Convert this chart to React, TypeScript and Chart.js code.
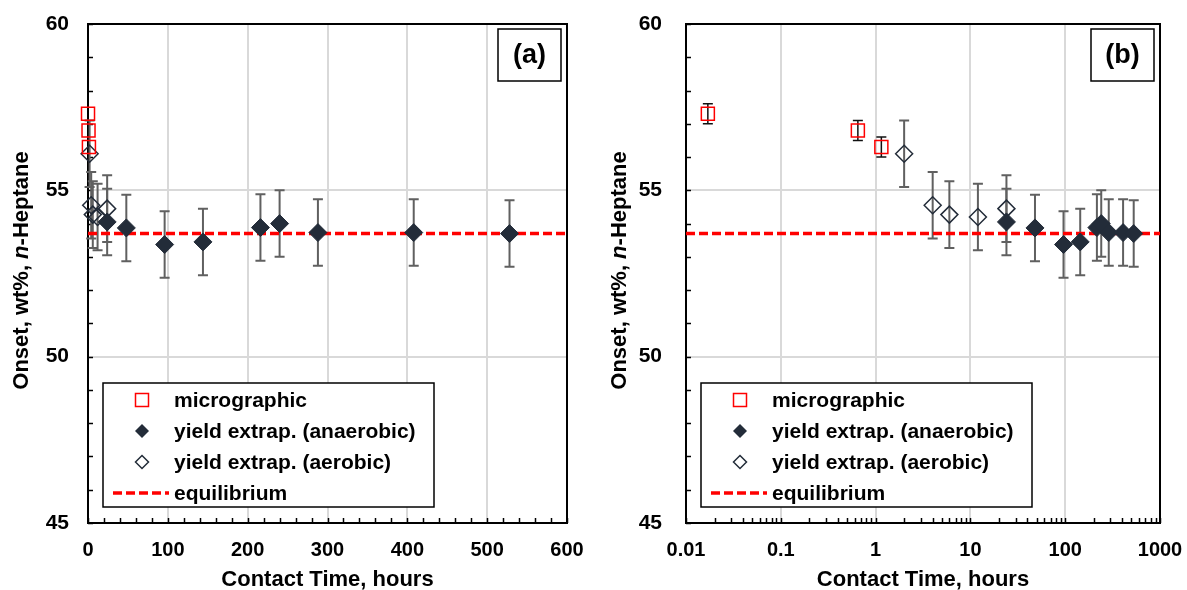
import { useEffect, useRef } from "react";
import { Chart, registerables } from "chart.js";
Chart.register(...registerables);

// ---------- data ----------
const microX = [0.017, 0.65, 1.15];
const microY = [57.3, 56.8, 56.3];
const microErr = [0.3, 0.3, 0.3];

const anaX = [24, 48, 96, 144, 216, 240, 288, 408, 528];
const anaY = [54.05, 53.87, 53.37, 53.45, 53.88, 54.0, 53.73, 53.73, 53.7];
const anaErr = [1, 1, 1, 1, 1, 1, 1, 1, 1];

const aeroX = [2, 4, 6, 12, 24];
const aeroY = [56.1, 54.55, 54.27, 54.2, 54.45];
const aeroErr = [1, 1, 1, 1, 1];

const equilibriumY = 53.7;
const linearXRange = [0, 600];
const logXRange = [0.01, 1000];
const logXTicks = [0.01, 0.1, 1, 10, 100, 1000];
const yRange = [45, 60];

const legendLabels = [
  "micrographic",
  "yield extrap. (anaerobic)",
  "yield extrap. (aerobic)",
  "equilibrium",
];
const panelLabels = ["(a)", "(b)"];
const xTitle = "Contact Time, hours";
const yTitleParts: [string, boolean][] = [
  ["Onset, wt%, ", false],
  ["n", true],
  ["-Heptane", false],
];

// ---------- styles ----------
const FONT = '"Liberation Sans", Arial, Helvetica, sans-serif';
const RED = "#ff0000";
const DARK = "#232c39";
const BAR = "#606060";
const GRID = "#d9d9d9";

function diamond(ctx: CanvasRenderingContext2D, x: number, y: number, r: number) {
  ctx.beginPath();
  ctx.moveTo(x, y - r);
  ctx.lineTo(x + r, y);
  ctx.lineTo(x, y + r);
  ctx.lineTo(x - r, y);
  ctx.closePath();
}

function makeConfig(isLog: boolean, panel: string, axisWidth: number, rightPad: number): any {
  const eqX = isLog ? logXRange : linearXRange;
  const errorSets = [
    { xs: aeroX, ys: aeroY, es: aeroErr, color: BAR, w: 2 },
    { xs: anaX, ys: anaY, es: anaErr, color: BAR, w: 2 },
  ];
  if (isLog) errorSets.push({ xs: microX, ys: microY, es: microErr, color: "#111111", w: 1.5 });

  const customPlugin = {
    id: "custom",
    beforeDatasetsDraw(chart: any) {
      const { ctx, chartArea: a, scales } = chart;
      const xs = scales.x;
      const ys = scales.y;
      ctx.save();
      // minor/major tick marks (inward)
      ctx.strokeStyle = "#000";
      ctx.lineWidth = 1.5;
      const tl = 5;
      for (let v = yRange[0]; v <= yRange[1]; v += 1) {
        const py = Math.round(ys.getPixelForValue(v)) + 0.5;
        ctx.beginPath();
        ctx.moveTo(a.left, py);
        ctx.lineTo(a.left + tl, py);
        ctx.stroke();
      }
      const xMinor: number[] = [];
      if (isLog) {
        for (let d = 0.01; d < 999; d *= 10) {
          for (let k = 1; k <= 9; k++) xMinor.push(k * d);
        }
        xMinor.push(1000);
      } else {
        for (let v = linearXRange[0]; v <= linearXRange[1]; v += 20) xMinor.push(v);
      }
      xMinor.forEach((v) => {
        const px = Math.round(xs.getPixelForValue(v)) + 0.5;
        ctx.beginPath();
        ctx.moveTo(px, a.bottom);
        ctx.lineTo(px, a.bottom - tl);
        ctx.stroke();
      });
      // frame
      ctx.lineWidth = 2;
      ctx.strokeRect(a.left, a.top, a.right - a.left, a.bottom - a.top);
      // error bars
      errorSets.forEach((s) => {
        ctx.strokeStyle = s.color;
        ctx.lineWidth = s.w;
        s.xs.forEach((xv, i) => {
          const px = xs.getPixelForValue(xv);
          const p1 = ys.getPixelForValue(s.ys[i] + s.es[i]);
          const p2 = ys.getPixelForValue(s.ys[i] - s.es[i]);
          ctx.beginPath();
          ctx.moveTo(px, p1);
          ctx.lineTo(px, p2);
          ctx.moveTo(px - 5, p1);
          ctx.lineTo(px + 5, p1);
          ctx.moveTo(px - 5, p2);
          ctx.lineTo(px + 5, p2);
          ctx.stroke();
        });
      });
      ctx.restore();
    },
    afterDraw(chart: any) {
      const { ctx, chartArea: a } = chart;
      ctx.save();
      // panel label
      const bw = 63, bh = 52;
      const bx = a.right - 6 - bw, by = a.top + 5;
      ctx.fillStyle = "#fff";
      ctx.fillRect(bx, by, bw, bh);
      ctx.strokeStyle = "#000";
      ctx.lineWidth = 1.5;
      ctx.strokeRect(bx, by, bw, bh);
      ctx.fillStyle = "#000";
      ctx.font = `bold 27px ${FONT}`;
      ctx.textAlign = "center";
      ctx.textBaseline = "middle";
      ctx.fillText(panel, bx + bw / 2, by + bh / 2 + 1);

      // legend
      const lx = a.left + 15, ly = 383, lw = 331, lh = 124;
      ctx.fillStyle = "#fff";
      ctx.fillRect(lx, ly, lw, lh);
      ctx.strokeStyle = "#000";
      ctx.lineWidth = 1.5;
      ctx.strokeRect(lx, ly, lw, lh);
      const rows = [400, 431, 462, 493];
      const mx = lx + 39;
      ctx.strokeStyle = RED;
      ctx.lineWidth = 1.5;
      ctx.strokeRect(mx - 6.5, rows[0] - 6.5, 13, 13);
      diamond(ctx, mx, rows[1], 7);
      ctx.fillStyle = DARK;
      ctx.fill();
      diamond(ctx, mx, rows[2], 6.5);
      ctx.strokeStyle = DARK;
      ctx.lineWidth = 1.5;
      ctx.stroke();
      ctx.strokeStyle = RED;
      ctx.lineWidth = 3.5;
      ctx.setLineDash([9, 4]);
      ctx.beginPath();
      ctx.moveTo(lx + 10, rows[3]);
      ctx.lineTo(lx + 66, rows[3]);
      ctx.stroke();
      ctx.setLineDash([]);
      ctx.fillStyle = "#000";
      ctx.font = `bold 21px ${FONT}`;
      ctx.textAlign = "left";
      ctx.textBaseline = "middle";
      legendLabels.forEach((t, i) => ctx.fillText(t, lx + 71, rows[i] + 1));

      // x title
      ctx.font = `bold 22px ${FONT}`;
      ctx.textAlign = "center";
      ctx.fillText(xTitle, (a.left + a.right) / 2, 580);

      // y title (rotated, italic n)
      ctx.translate(axisWidth - 66, (a.top + a.bottom) / 2 - 3);
      ctx.rotate(-Math.PI / 2);
      const fonts = yTitleParts.map(([, it]) => `${it ? "italic " : ""}bold 22px ${FONT}`);
      let total = 0;
      const widths = yTitleParts.map(([t], i) => {
        ctx.font = fonts[i];
        const w = ctx.measureText(t).width;
        total += w;
        return w;
      });
      let cx = -total / 2;
      ctx.textAlign = "left";
      yTitleParts.forEach(([t], i) => {
        ctx.font = fonts[i];
        ctx.fillText(t, cx, 0);
        cx += widths[i];
      });
      ctx.restore();
    },
  };

  const xScale: any = isLog
    ? {
        type: "logarithmic",
        min: logXRange[0],
        max: logXRange[1],
        afterBuildTicks: (s: any) => {
          s.ticks = logXTicks.map((v) => ({ value: v }));
        },
        ticks: {
          callback: (v: any) => String(v),
          autoSkip: false,
          maxRotation: 0,
          padding: 15,
          color: "#000",
          font: { family: FONT, size: 20, weight: "bold" },
        },
      }
    : {
        type: "linear",
        min: linearXRange[0],
        max: linearXRange[1],
        ticks: {
          stepSize: 100,
          maxRotation: 0,
          padding: 15,
          color: "#000",
          font: { family: FONT, size: 20, weight: "bold" },
        },
      };
  xScale.grid = { color: GRID, lineWidth: 2, drawTicks: false };
  xScale.border = { display: false };
  xScale.afterFit = (s: any) => {
    s.height = 67;
    s.paddingLeft = 0;
    s.paddingRight = 0;
  };

  return {
    type: "scatter",
    data: {
      datasets: [
        {
          label: legendLabels[0],
          data: microX.map((x, i) => ({ x, y: microY[i] })),
          pointStyle: "rect",
          pointRadius: 9.2,
          pointBorderColor: RED,
          pointBackgroundColor: "rgba(255,255,255,0)",
          pointBorderWidth: 1.5,
          showLine: false,
          clip: false,
          order: 1,
        },
        {
          label: legendLabels[1],
          data: anaX.map((x, i) => ({ x, y: anaY[i] })),
          pointStyle: "rectRot",
          pointRadius: 9,
          pointBorderColor: DARK,
          pointBackgroundColor: DARK,
          pointBorderWidth: 1,
          showLine: false,
          clip: false,
          order: 2,
        },
        {
          label: legendLabels[2],
          data: aeroX.map((x, i) => ({ x, y: aeroY[i] })),
          pointStyle: "rectRot",
          pointRadius: 8.5,
          pointBorderColor: DARK,
          pointBackgroundColor: "rgba(255,255,255,0)",
          pointBorderWidth: 1.5,
          showLine: false,
          clip: false,
          order: 3,
        },
        {
          type: "line",
          label: legendLabels[3],
          data: eqX.map((x) => ({ x, y: equilibriumY })),
          borderColor: RED,
          borderWidth: 3.5,
          borderDash: [9, 4],
          pointRadius: 0,
          fill: false,
          order: 4,
        },
      ],
    },
    options: {
      responsive: false,
      animation: false,
      events: [],
      layout: { padding: { left: 0, top: 24, right: rightPad, bottom: 0 } },
      plugins: { legend: { display: false }, tooltip: { enabled: false } },
      scales: {
        x: xScale,
        y: {
          type: "linear",
          min: yRange[0],
          max: yRange[1],
          ticks: {
            stepSize: 5,
            padding: axisWidth - 69,
            color: "#000",
            font: { family: FONT, size: 21, weight: "bold" },
          },
          grid: { color: GRID, lineWidth: 2, drawTicks: false },
          border: { display: false },
          afterFit: (s: any) => {
            s.width = axisWidth;
            s.paddingTop = 0;
            s.paddingBottom = 0;
          },
        },
      },
    },
    plugins: [customPlugin],
  };
}

function Panel({ isLog, panel, left, width, axisWidth, rightPad }: any) {
  const ref = useRef<HTMLCanvasElement | null>(null);
  useEffect(() => {
    if (!ref.current) return;
    const chart = new Chart(ref.current, makeConfig(isLog, panel, axisWidth, rightPad));
    return () => chart.destroy();
  }, []);
  return (
    <canvas
      ref={ref}
      width={width}
      height={590}
      style={{ position: "absolute", left, top: 0, width, height: 590 }}
    />
  );
}

export default function App() {
  return (
    <div style={{ position: "absolute", left: 0, top: 0, width: 1187, height: 590, background: "#fff" }}>
      <Panel isLog={false} panel={panelLabels[0]} left={0} width={593} axisWidth={88} rightPad={26} />
      <Panel isLog={true} panel={panelLabels[1]} left={593} width={594} axisWidth={93} rightPad={27} />
    </div>
  );
}
